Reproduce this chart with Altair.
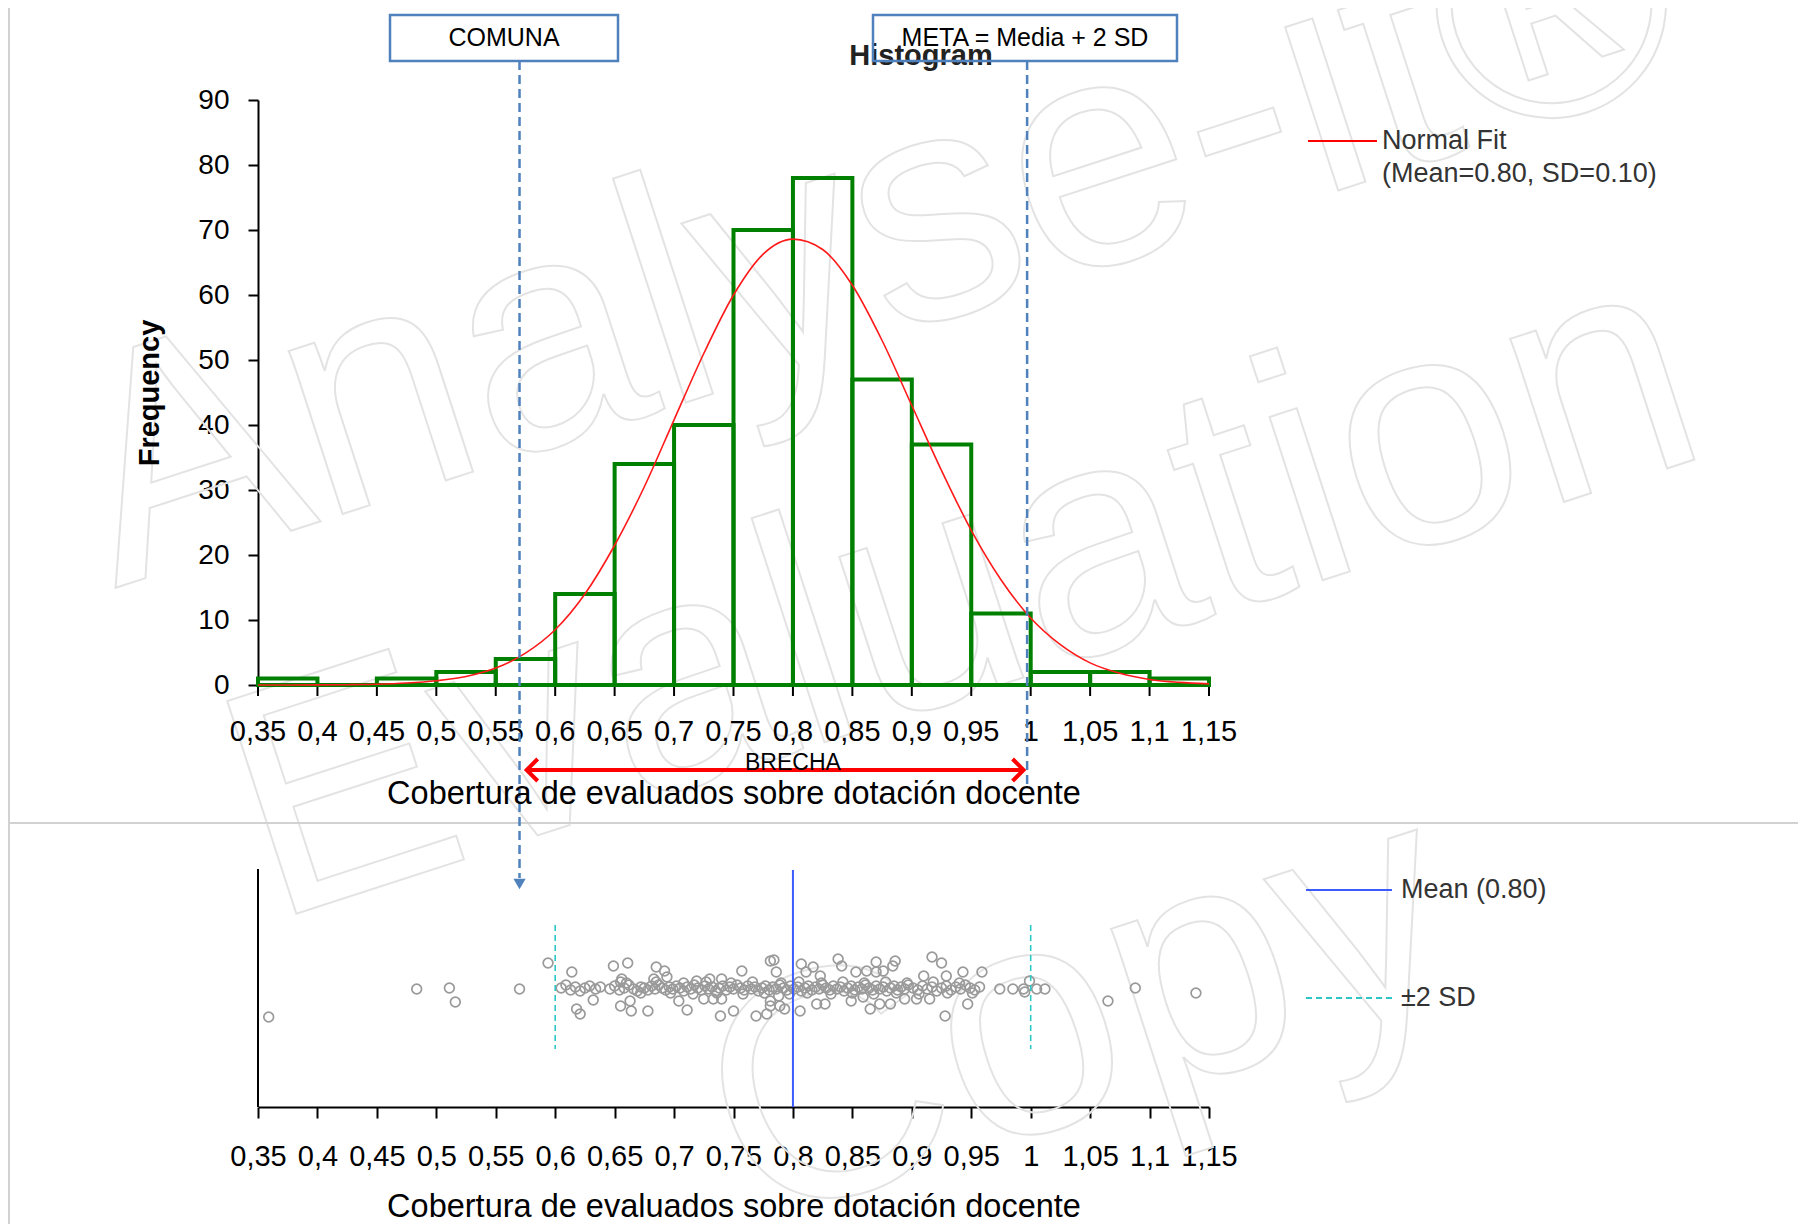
import altair as alt
import pandas as pd

# ---------------- data ----------------
bin_edges = [0.35, 0.40, 0.45, 0.50, 0.55, 0.60, 0.65, 0.70, 0.75, 0.80,
             0.85, 0.90, 0.95, 1.00, 1.05, 1.10, 1.15]
counts = [1, 0, 1, 2, 4, 14, 34, 40, 70, 78, 47, 37, 11, 2, 2, 1]

fit_x = [0.35, 0.375, 0.40, 0.425, 0.45, 0.475, 0.50, 0.525, 0.55, 0.575,
         0.60, 0.625, 0.65, 0.675, 0.70, 0.725, 0.75, 0.775, 0.80, 0.825,
         0.85, 0.875, 0.90, 0.925, 0.95, 0.975, 1.00, 1.025, 1.05, 1.075,
         1.10, 1.125, 1.15]
fit_y = [0.0, 0.01, 0.02, 0.05, 0.12, 0.3, 0.65, 1.3, 2.6, 4.9,
         8.5, 14.0, 21.5, 30.5, 40.8, 51.0, 60.0, 66.3, 68.6, 67.0,
         61.5, 53.0, 43.0, 33.0, 23.8, 16.2, 10.3, 6.2, 3.4, 1.8,
         0.85, 0.4, 0.18]

x_ticks = [0.35, 0.40, 0.45, 0.50, 0.55, 0.60, 0.65, 0.70, 0.75, 0.80,
           0.85, 0.90, 0.95, 1.00, 1.05, 1.10, 1.15]
x_labels = ["0,35", "0,4", "0,45", "0,5", "0,55", "0,6", "0,65", "0,7", "0,75",
            "0,8", "0,85", "0,9", "0,95", "1", "1,05", "1,1", "1,15"]
y_ticks = [0, 10, 20, 30, 40, 50, 60, 70, 80, 90]

# strip plot: (value, vertical jitter offset)
scatter_pts = [
    (0.359, 29), (0.4835, 1), (0.511, 0), (0.516, 14), (0.570, 1), (0.594, -25),
    (0.614, -16), (0.618, 21), (0.621, 26), (0.632, 12), (0.649, -22), (0.661, -25),
    (0.655, -6), (0.656, -9), (0.655, 18), (0.663, 13), (0.664, 23), (0.678, 23),
    (0.685, -21), (0.692, -17), (0.694, -11), (0.683, -9), (0.704, 13), (0.711, 22),
    (0.719, -7), (0.730, -9), (0.740, -9), (0.725, 11), (0.733, 11), (0.740, 11),
    (0.739, 28), (0.750, 23), (0.757, -17), (0.781, -27), (0.784, -28), (0.786, -16),
    (0.769, 28), (0.778, 26), (0.781, 18), (0.781, 13), (0.789, 18), (0.788, 8),
    (0.807, -24), (0.817, -21), (0.811, -16), (0.838, -29), (0.841, -22), (0.870, -26),
    (0.886, -27), (0.884, -22), (0.853, -16), (0.862, -17), (0.870, -16), (0.876, -17),
    (0.917, -31), (0.925, -25), (0.910, -12), (0.929, -12), (0.943, -16), (0.959, -16),
    (0.823, -12), (0.793, 21), (0.806, 23), (0.820, 16), (0.827, 16), (0.849, 13),
    (0.859, 9), (0.865, 21), (0.873, 16), (0.882, 16), (0.894, 11), (0.904, 11),
    (0.915, 11), (0.928, 28), (0.947, 16), (0.974, 1), (0.985, 1), (0.994, 1),
    (0.999, -7), (0.995, 4), (1.005, 1), (1.012, 1), (1.065, 13), (1.088, 0), (1.139, 5),
]
band_pts = [
    (0.605, 0), (0.609, -3), (0.613, 2), (0.617, -1), (0.621, 3), (0.625, 0), (0.629, -2),
    (0.634, 1), (0.638, -1), (0.646, 1), (0.650, -2), (0.654, 2), (0.658, 0), (0.662, -3),
    (0.666, 1), (0.669, 3), (0.672, -1), (0.675, 0), (0.678, 2), (0.681, -2), (0.684, 1),
    (0.687, -3), (0.690, 0), (0.693, 2), (0.696, -1), (0.699, 1), (0.702, -2), (0.705, 0),
    (0.708, 3), (0.711, -1), (0.714, 1), (0.717, -3), (0.720, 0), (0.723, 2), (0.726, -2),
    (0.729, 1), (0.732, -1), (0.735, 3), (0.738, 0), (0.741, -2), (0.744, 2), (0.747, -1),
    (0.750, 1), (0.753, -3), (0.756, 0), (0.759, 2), (0.762, -2), (0.765, 1), (0.768, -1),
    (0.771, 3), (0.774, 0), (0.777, -2), (0.780, 2), (0.783, -1), (0.786, 1), (0.789, -3),
    (0.792, 0), (0.795, 2), (0.798, -2), (0.801, 1), (0.804, -1), (0.807, 3), (0.810, 0),
    (0.813, -2), (0.816, 2), (0.819, -1), (0.822, 1), (0.825, -3), (0.828, 0), (0.831, 2),
    (0.834, -2), (0.837, 1), (0.840, -1), (0.843, 3), (0.846, 0), (0.849, -2), (0.852, 2),
    (0.855, -1), (0.858, 1), (0.861, -3), (0.864, 0), (0.867, 2), (0.870, -2), (0.873, 1),
    (0.876, -1), (0.879, 3), (0.882, 0), (0.885, -2), (0.888, 2), (0.891, -1), (0.894, 1),
    (0.897, -3), (0.901, 0), (0.905, 2), (0.909, -2), (0.913, 1), (0.917, -1), (0.921, 3),
    (0.925, 0), (0.929, -2), (0.933, 2), (0.937, -1), (0.941, 1), (0.945, -3), (0.949, 0),
    (0.953, 2), (0.957, -1),
]
band_edge_pts = [
    (0.660, -5), (0.672, 5), (0.685, -6), (0.697, 5), (0.708, -5), (0.716, 6),
    (0.727, -6), (0.736, 5), (0.748, -5), (0.758, 6), (0.766, -6), (0.776, 5),
    (0.790, -5), (0.797, 6), (0.805, -6), (0.812, 5), (0.824, -5), (0.832, 6),
    (0.842, -6), (0.850, 5), (0.860, -5), (0.868, 6), (0.878, -6), (0.887, 5),
    (0.896, -5), (0.906, 6), (0.918, -6), (0.930, 5), (0.940, -5), (0.951, 5),
]

mean_val = 0.80
sd2_vals = [0.60, 1.00]
comuna_val = 0.57
meta_val = 0.997
brecha_from, brecha_to = 0.576, 0.994

# ---------------- tables ----------------
hist_df = pd.DataFrame({"x0": bin_edges[:-1], "x1": bin_edges[1:], "count": counts})
fit_df = pd.DataFrame({"x": fit_x, "y": fit_y})
tick_df = pd.DataFrame({"x": x_ticks, "label": x_labels})
strip_df = pd.DataFrame(scatter_pts + band_pts + band_edge_pts, columns=["v", "dy"])
sd_df = pd.DataFrame({"v": sd2_vals})
one = pd.DataFrame({"k": [0]})

W, H = 951, 1007
F = "Liberation Sans, Arial, sans-serif"

XS = alt.Scale(domain=[0.35, 1.15], nice=False, zero=False)
YH = alt.Scale(domain=[0, 90], range=[585, 0], nice=False, zero=False)
YS = alt.Scale(domain=[-119, 119], range=[769, 1007], nice=False, zero=False)

x_axis = alt.Axis(values=x_ticks, labelExpr="replace(format(datum.value, '.2~f'), '.', ',')",
                  tickSize=11, tickWidth=2, tickColor="black", domainColor="black",
                  domainWidth=2, labelFontSize=29, labelFont=F, labelColor="black",
                  labelBaseline="middle", labelPadding=38, labelOverlap=False,
                  labelFlush=False, title=None, grid=False, orient="bottom")
y_axis = alt.Axis(values=y_ticks, tickSize=10, tickWidth=2, tickColor="black",
                  domainColor="black", domainWidth=2, labelFontSize=28, labelFont=F,
                  labelColor="black", labelPadding=19, title=None, grid=False, orient="left")


def xq(field):
    return alt.X(field, type="quantitative", scale=XS, axis=x_axis)


def text(s, x, y, size, color="black", bold=False, angle=0, align="center", font=F):
    kw = dict(text=s, fontSize=size, font=font, color=color, align=align,
              baseline="middle", fontWeight="bold" if bold else "normal")
    if angle:
        kw["angle"] = angle
    return alt.Chart(one).mark_text(**kw).encode(x=alt.value(x), y=alt.value(y))


def vrule(x, y1, y2, color, width=2, dash=None):
    kw = dict(color=color, strokeWidth=width)
    if dash:
        kw["strokeDash"] = dash
    return alt.Chart(one).mark_rule(**kw).encode(x=x, y=alt.value(y1), y2=alt.value(y2))


layers = []

# watermark (outlined text)
for s, x, y in [("Analyse-it®", -143, 488), ("Evaluation", 13, 822), ("Copy", 491, 1127)]:
    layers.append(alt.Chart(one).mark_text(text=s, fontSize=325, font=F, angle=342,
                                           align="left", baseline="alphabetic",
                                           fillOpacity=0, stroke="#e3e3e3", strokeWidth=2)
                  .encode(x=alt.value(x), y=alt.value(y)))

# frame lines
layers.append(alt.Chart(one).mark_rule(color="#d2d2d2", strokeWidth=2)
              .encode(x=alt.value(-250), x2=alt.value(1560), y=alt.value(-93)))
layers.append(alt.Chart(one).mark_rule(color="#d2d2d2", strokeWidth=2)
              .encode(x=alt.value(-249), y=alt.value(-93), y2=alt.value(1130)))
layers.append(alt.Chart(one).mark_rule(color="#d2d2d2", strokeWidth=2)
              .encode(x=alt.value(-250), x2=alt.value(1560), y=alt.value(723)))

# histogram x axis (drawn)
layers.append(alt.Chart(one).mark_rule(color="black", strokeWidth=2)
              .encode(x=alt.datum(0.35, scale=XS), x2=alt.datum(1.15), y=alt.value(585)))
layers.append(alt.Chart(tick_df).mark_rule(color="black", strokeWidth=2)
              .encode(x=xq("x"), y=alt.value(585), y2=alt.value(596)))
layers.append(alt.Chart(tick_df).mark_text(fontSize=29, font=F, color="black", baseline="middle")
              .encode(x=xq("x"), y=alt.value(632), text="label:N"))

# histogram bars
layers.append(alt.Chart(hist_df).mark_rect(fillOpacity=0, stroke="#008000", strokeWidth=4)
              .encode(x=xq("x0"), x2="x1",
                      y=alt.Y("count:Q", scale=YH, axis=y_axis), y2=alt.datum(0)))
# normal fit curve
layers.append(alt.Chart(fit_df).mark_line(color="#ff1a1a", strokeWidth=1.6, interpolate="monotone")
              .encode(x=xq("x"), y=alt.Y("y:Q", scale=YH, axis=None)))

# strip plot
layers.append(alt.Chart(strip_df).mark_point(shape="circle", filled=False, size=95,
                                             color="#9a9a9a", strokeWidth=1.7, opacity=1)
              .encode(x=xq("v"), y=alt.Y("dy:Q", scale=YS, axis=None)))
layers.append(alt.Chart(one).mark_rule(color="#3b5bff", strokeWidth=2)
              .encode(x=alt.datum(mean_val), y=alt.value(770), y2=alt.value(1007)))
layers.append(alt.Chart(sd_df).mark_rule(color="#2cc6c6", strokeWidth=1.6, strokeDash=[6, 4])
              .encode(x=xq("v"), y=alt.value(825), y2=alt.value(949)))
# strip y axis line
layers.append(alt.Chart(one).mark_rule(color="black", strokeWidth=2)
              .encode(x=alt.value(0), y=alt.value(769), y2=alt.value(1007)))

# annotations: COMUNA / META boxes and dashed lines
BLUE = "#4f81bd"
layers.append(vrule(alt.datum(comuna_val), -39, 778, BLUE, 2.5, [9, 5]))
layers.append(vrule(alt.datum(meta_val), -39, 684, BLUE, 2.5, [9, 5]))
layers.append(alt.Chart(one).mark_point(shape="triangle-down", filled=True, size=150,
                                        color=BLUE, opacity=1)
              .encode(x=alt.datum(comuna_val), y=alt.value(784)))
layers.append(text("Histogram", 663, -44, 29, color="#222222", bold=True))
layers.append(alt.Chart(one).mark_rect(fillOpacity=0, stroke=BLUE, strokeWidth=2.5)
              .encode(x=alt.value(132), x2=alt.value(360), y=alt.value(-85), y2=alt.value(-39)))
layers.append(alt.Chart(one).mark_rect(fillOpacity=0, stroke=BLUE, strokeWidth=2.5)
              .encode(x=alt.value(615), x2=alt.value(919), y=alt.value(-85), y2=alt.value(-39)))
layers.append(text("COMUNA", 246, -62, 25))
layers.append(text("META = Media + 2 SD", 767, -62, 25))

# BRECHA arrow
RED = "#ff0000"
layers.append(alt.Chart(one).mark_rule(color=RED, strokeWidth=4)
              .encode(x=alt.datum(brecha_from), x2=alt.datum(brecha_to), y=alt.value(670)))
layers.append(alt.Chart(one).mark_point(shape="M 1 -1 L 0 0 L 1 1", filled=False, size=484,
                                        stroke=RED, strokeWidth=4, opacity=1)
              .encode(x=alt.datum(brecha_from), y=alt.value(670)))
layers.append(alt.Chart(one).mark_point(shape="M -1 -1 L 0 0 L -1 1", filled=False, size=484,
                                        stroke=RED, strokeWidth=4, opacity=1)
              .encode(x=alt.datum(brecha_to), y=alt.value(670)))
layers.append(alt.Chart(one).mark_text(text="BRECHA", fontSize=23, font=F, color="black",
                                       baseline="middle")
              .encode(x=alt.datum(0.80), y=alt.value(663)))

# axis titles
layers.append(text("Frequency", -108, 293, 29, bold=True, angle=270))
layers.append(text("Cobertura de evaluados sobre dotación docente", 476, 694, 32.5))
layers.append(text("Cobertura de evaluados sobre dotación docente", 476, 1107, 32.5))

# legends
layers.append(alt.Chart(one).mark_rule(color=RED, strokeWidth=2)
              .encode(x=alt.value(1050), x2=alt.value(1119), y=alt.value(41)))
layers.append(text("Normal Fit", 1124, 41, 27, color="#333333", align="left"))
layers.append(text("(Mean=0.80, SD=0.10)", 1124, 74, 27, color="#333333", align="left"))
layers.append(alt.Chart(one).mark_rule(color="#3b5bff", strokeWidth=2)
              .encode(x=alt.value(1048), x2=alt.value(1134), y=alt.value(790)))
layers.append(text("Mean (0.80)", 1143, 790, 27, color="#333333", align="left"))
layers.append(alt.Chart(one).mark_rule(color="#2cc6c6", strokeWidth=2, strokeDash=[6, 4])
              .encode(x=alt.value(1048), x2=alt.value(1134), y=alt.value(898)))
layers.append(text("±2 SD", 1143, 898, 27, color="#333333", align="left"))

chart = alt.layer(*layers).resolve_scale(y="independent").properties(
    width=W, height=H,
    autosize=alt.AutoSizeParams(type="none"),
    padding={"left": 250, "top": 92, "right": 589, "bottom": 117},
    background="white",
).configure_view(strokeWidth=0)

chart.save("out.html", embed_options={"renderer": "svg", "actions": False})
